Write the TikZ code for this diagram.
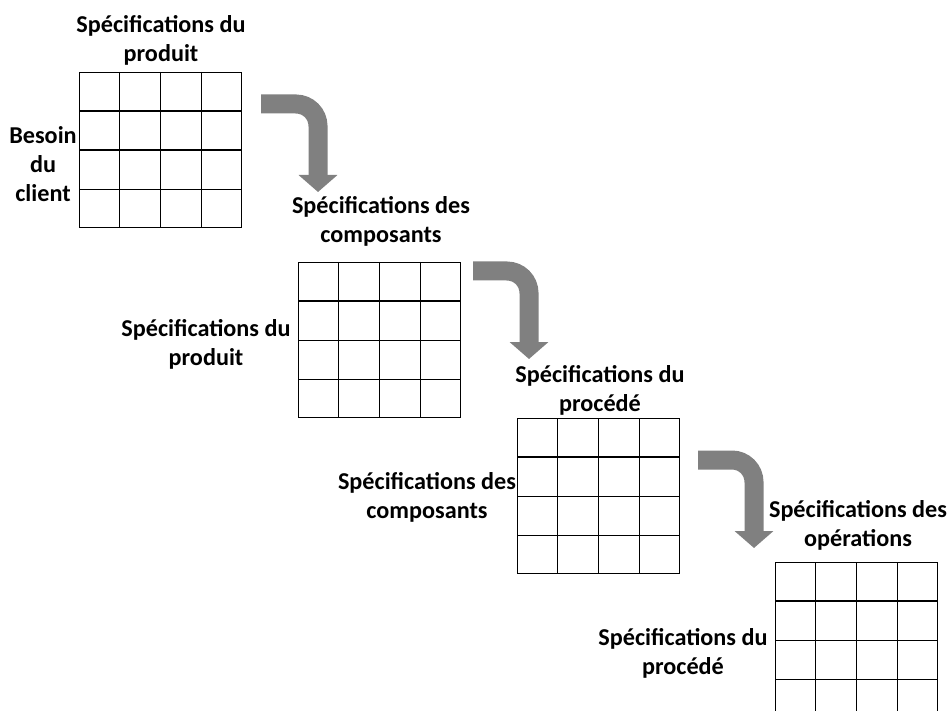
\documentclass[tikz,border=0pt]{standalone}
\usepackage{fontspec}
\setmainfont{Carlito}
\usepackage{tikz}
\usetikzlibrary{arrows.meta,positioning,calc}

\begin{document}
\begin{tikzpicture}[x=1pt,y=-1pt,
	lbl/.style={font=\fontsize{24.2}{29}\selectfont\bfseries, align=center, inner sep=0pt},
	mat/.style={draw, line width=1.2pt, minimum width=162pt, minimum height=155pt, inner sep=0pt, anchor=north west},
	bendarr/.style={draw=gray, line width=19pt, rounded corners=22pt, -{Triangle[width=38pt,length=17pt]}}]
	\useasboundingbox (0,0) rectangle (950,711);
	% the four matrices
	\node[mat] (m1) at (79,72) {};
	\node[mat] (m2) at (298,262) {};
	\node[mat] (m3) at (517,418) {};
	\node[mat] (m4) at (775,562) {};
	\foreach \m in {m1,m2,m3,m4}
		\foreach \i in {1,2,3} {
			\draw[line width=1.2pt] ($(\m.north west)!\i/4!(\m.north east)$) -- ($(\m.south west)!\i/4!(\m.south east)$);
			\draw[line width=1.2pt] ($(\m.north west)!\i/4!(\m.south west)$) -- ($(\m.north east)!\i/4!(\m.south east)$);
		}
	% labels
	\node[lbl] (t1) at (161,40) {Spécifications du\\produit};
	\node[lbl] (b1) at (43,164) {Besoin\\du\\client};
	\node[lbl] (t2) at (381,221) {Spécifications des\\composants};
	\node[lbl] (l2) at (206,344) {Spécifications du\\produit};
	\node[lbl] (t3) at (600,390) {Spécifications du\\procédé};
	\node[lbl] (l3) at (427,497) {Spécifications des\\composants};
	\node[lbl] (t4) at (858,525) {Spécifications des\\opérations};
	\node[lbl] (l4) at (683,653) {Spécifications du\\procédé};
	% bent arrows
	\draw[bendarr] (261,104) -| (318,192);
	\draw[bendarr] (473,271) -| (529,359);
	\draw[bendarr] (698,460) -| (754,548);
\end{tikzpicture}
\end{document}
